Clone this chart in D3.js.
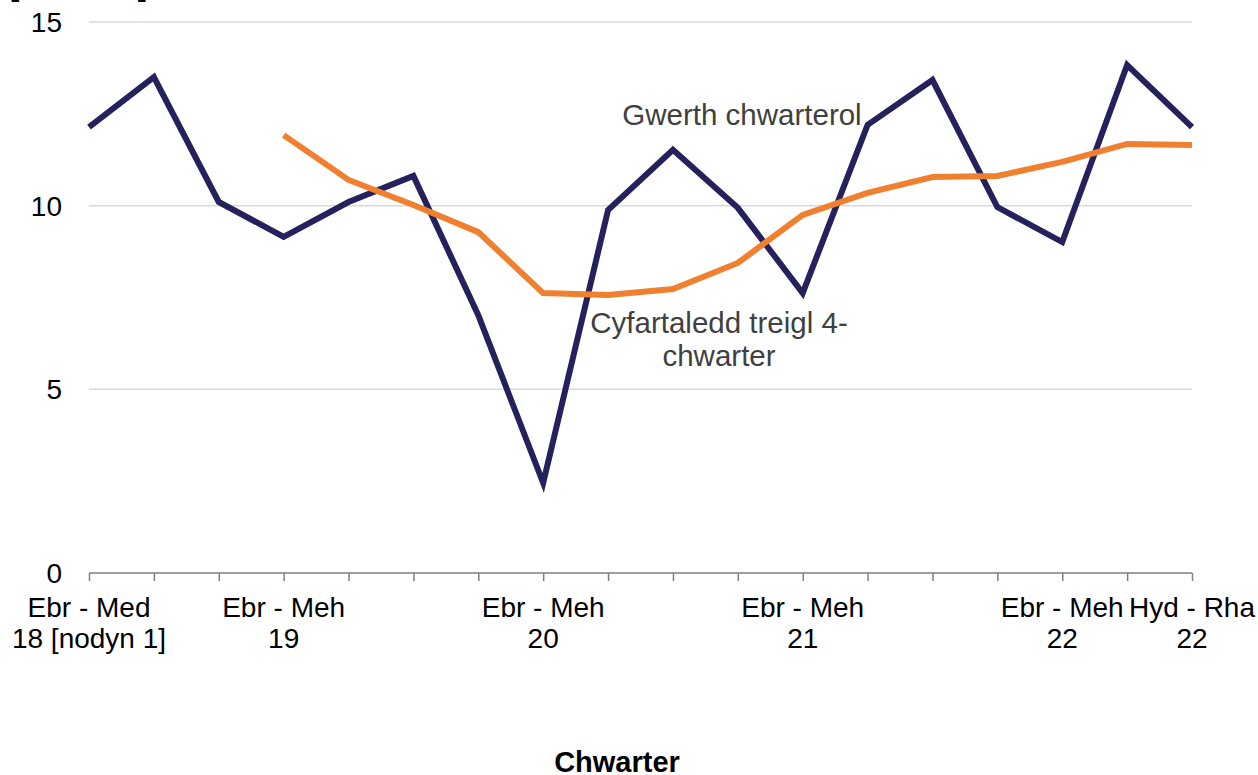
<!DOCTYPE html>
<html>
<head>
<meta charset="utf-8">
<title>Chwarter</title>
<script src="https://d3js.org/d3.v7.min.js"></script>
<style>
  body { margin: 0; background: #fff; }
  text { font-family: "Liberation Sans", Arial, sans-serif; }
</style>
</head>
<body>
<div id="chart"></div>
<script>
// quarters, Apr-Sep 18 through Oct-Dec 22
const quarters = ["q0","q1","q2","q3","q4","q5","q6","q7","q8","q9","q10","q11","q12","q13","q14","q15","q16","q17"];
// only some quarters carry a label (two lines each)
const tickLabels = {
  q0: ["Ebr - Med", "18 [nodyn 1]"],
  q3: ["Ebr - Meh", "19"],
  q7: ["Ebr - Meh", "20"],
  q11: ["Ebr - Meh", "21"],
  q15: ["Ebr - Meh", "22"],
  q17: ["Hyd - Rha", "22"]
};
const quarterly = [12.14, 13.5, 10.1, 9.15, 10.1, 10.81, 7.02, 2.45, 9.88, 11.52, 9.94, 7.62, 12.2, 13.42, 9.96, 9.01, 13.83, 12.14];
const rolling   = [null, null, null, 11.92, 10.7, 10.02, 9.28, 7.62, 7.57, 7.73, 8.44, 9.75, 10.35, 10.78, 10.81, 11.19, 11.68, 11.65];
const yTicks = [0, 5, 10, 15];

const W = 1258, H = 775;
const svg = d3.select("#chart").append("svg").attr("width", W).attr("height", H);

const x = d3.scalePoint().domain(quarters).range([89, 1192]);
const y = d3.scaleLinear().domain([0, 15]).range([573, 22]);

// cut-off unit title at top
svg.append("text").attr("x", 10).attr("y", -4)
  .attr("font-size", 28).attr("font-weight", "bold")
  .attr("textLength", 137).text("[Miliwn]");

// gridlines
svg.append("g").selectAll("line").data(yTicks.filter(d => d > 0)).join("line")
  .attr("x1", 89).attr("x2", 1192)
  .attr("y1", d => y(d)).attr("y2", d => y(d))
  .attr("stroke", "#d9d9d9").attr("stroke-width", 1.5);

// y labels
svg.append("g").selectAll("text").data(yTicks).join("text")
  .attr("x", 62).attr("y", d => y(d) + 10)
  .attr("text-anchor", "end").attr("font-size", 28).attr("fill", "#000")
  .text(d => d);

// x axis
const xAxis = svg.append("g").attr("transform", "translate(0,573)")
  .call(d3.axisBottom(x).tickSize(8).tickFormat(""));
xAxis.select(".domain").attr("stroke", "#7f7f7f").attr("stroke-width", 1.5).attr("d", "M89,0H1192");
xAxis.selectAll(".tick line").attr("stroke", "#7f7f7f").attr("stroke-width", 1.5);

const lab = svg.append("g").selectAll("g").data(quarters.filter(q => tickLabels[q])).join("g");
lab.append("text").attr("x", d => x(d)).attr("y", 617)
  .attr("text-anchor", "middle").attr("font-size", 28).text(d => tickLabels[d][0]);
lab.append("text").attr("x", d => x(d)).attr("y", 648)
  .attr("text-anchor", "middle").attr("font-size", 28).text(d => tickLabels[d][1]);

// axis title
svg.append("text").attr("x", 617).attr("y", 772)
  .attr("text-anchor", "middle").attr("font-size", 29).attr("font-weight", "bold")
  .text("Chwarter");

// lines
const line = d3.line()
  .defined(d => d[1] != null)
  .x(d => x(d[0])).y(d => y(d[1]));

svg.append("path")
  .datum(quarters.map((q, i) => [q, quarterly[i]]))
  .attr("d", line).attr("fill", "none")
  .attr("stroke", "#25215c").attr("stroke-width", 6).attr("stroke-linejoin", "miter");

svg.append("path")
  .datum(quarters.map((q, i) => [q, rolling[i]]))
  .attr("d", line).attr("fill", "none")
  .attr("stroke", "#f08030").attr("stroke-width", 6);

// annotations
svg.append("text").attr("x", 742).attr("y", 125)
  .attr("text-anchor", "middle").attr("font-size", 29.5).attr("fill", "#404040")
  .text("Gwerth chwarterol");
svg.append("text").attr("x", 719).attr("y", 333)
  .attr("text-anchor", "middle").attr("font-size", 29.5).attr("fill", "#404040")
  .text("Cyfartaledd treigl 4-");
svg.append("text").attr("x", 719).attr("y", 366)
  .attr("text-anchor", "middle").attr("font-size", 29.5).attr("fill", "#404040")
  .text("chwarter");
</script>
</body>
</html>
